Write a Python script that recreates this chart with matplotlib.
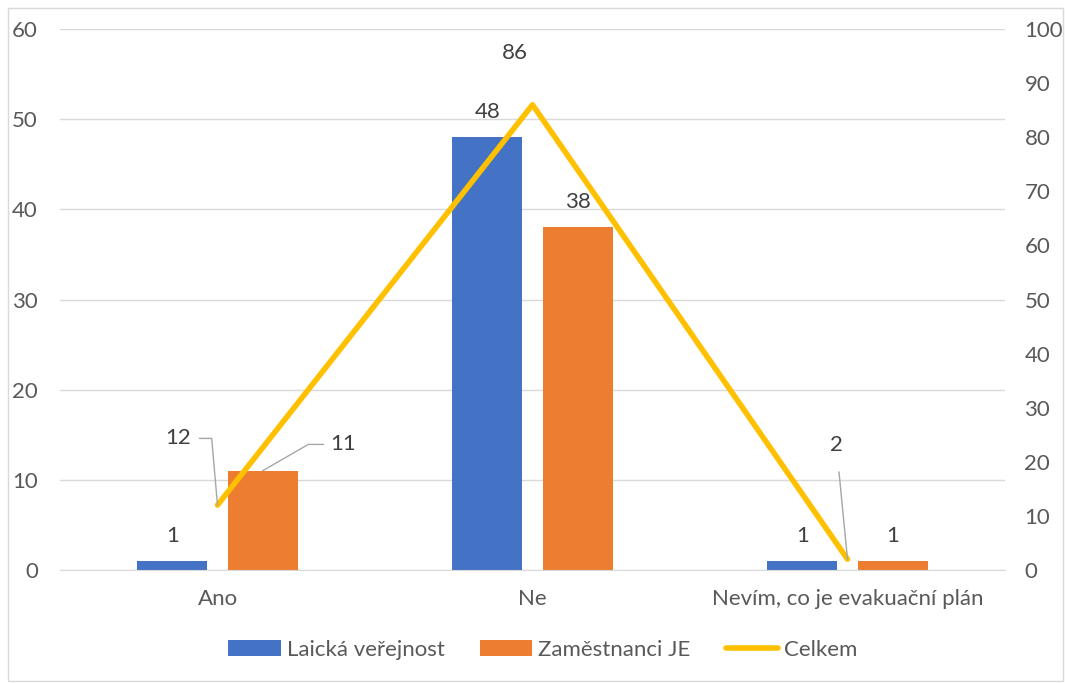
import matplotlib
matplotlib.use("Agg")
import matplotlib.pyplot as plt
from matplotlib.patches import Rectangle
import numpy as np

plt.rcParams['font.family'] = ['Lato', 'DejaVu Sans']

categories = ["Ano", "Ne", "Nevím, co je evakuační plán"]
laicka = [1, 48, 1]
zamestnanci = [11, 38, 1]
celkem = [12, 86, 2]
left_ticks = [0, 10, 20, 30, 40, 50, 60]
right_ticks = [0, 10, 20, 30, 40, 50, 60, 70, 80, 90, 100]

BLUE = "#4472C4"
ORANGE = "#ED7D31"
GOLD = "#FFC000"
GRID = "#D9D9D9"
TEXT = "#595959"
LABEL = "#404040"
LEADER = "#A6A6A6"
FS = 16

fig = plt.figure(figsize=(10.65, 6.83), dpi=100)
fig.patches.append(Rectangle((8 / 1065, 2 / 683), 1055 / 1065, 673 / 683,
                             transform=fig.transFigure, fill=False,
                             edgecolor="#D9D9D9", linewidth=1))

ax = fig.add_axes([60 / 1065, 1 - 570 / 683, 945 / 1065, 541 / 683])
ax2 = ax.twinx()

x = np.arange(len(categories))
w = 0.222
off = 0.143
bars1 = ax.bar(x - off, laicka, w, color=BLUE, label="Laická veřejnost", zorder=2)
bars2 = ax.bar(x + off, zamestnanci, w, color=ORANGE, label="Zaměstnanci JE", zorder=2)
line, = ax2.plot(x, celkem, color=GOLD, linewidth=4, solid_capstyle="round",
                 label="Celkem", zorder=3)

ax.set_xlim(-0.5, 2.5)
ax.set_ylim(0, 60)
ax2.set_ylim(0, 100)
ax.set_yticks(left_ticks)
ax2.set_yticks(right_ticks)
ax.set_xticks(x)
ax.set_xticklabels(categories)
ax.grid(axis="y", color=GRID, linewidth=1, zorder=0)
ax.set_axisbelow(True)

for a in (ax, ax2):
    for s in ("top", "left", "right", "bottom"):
        a.spines[s].set_visible(False)
    a.tick_params(length=0, labelsize=FS, labelcolor=TEXT)
ax.spines["bottom"].set_visible(True)
ax.spines["bottom"].set_color(GRID)
ax.tick_params(axis="y", pad=16)
ax2.tick_params(axis="y", pad=14)
ax.tick_params(axis="x", pad=14)

# value labels above bars (the "Ano" employee label gets a leader line)
for i, v in enumerate(laicka):
    ax.annotate(str(v), (x[i] - off, v), xytext=(0, 18), textcoords="offset points",
                ha="center", va="center", fontsize=FS, color=LABEL)
for i, v in enumerate(zamestnanci):
    if i == 0:
        continue
    ax.annotate(str(v), (x[i] + off, v), xytext=(0, 18), textcoords="offset points",
                ha="center", va="center", fontsize=FS, color=LABEL)

ax.annotate(str(zamestnanci[0]), (x[0] + off, zamestnanci[0]),
            xytext=(49, 19), textcoords="offset points",
            ha="left", va="center", fontsize=FS, color=LABEL,
            arrowprops=dict(arrowstyle="-", color=LEADER, lw=1,
                            connectionstyle="angle,angleA=0,angleB=30,rad=0",
                            shrinkA=3, shrinkB=0))

# Celkem labels
ax2.annotate(str(celkem[0]), (x[0], celkem[0]), xytext=(-19, 48),
             textcoords="offset points", ha="right", va="center",
             fontsize=FS, color=LABEL,
             arrowprops=dict(arrowstyle="-", color=LEADER, lw=1,
                             connectionstyle="angle,angleA=0,angleB=95,rad=0",
                             shrinkA=4, shrinkB=0))
ax2.annotate(str(celkem[1]), (x[1], celkem[1]), xytext=(-13, 37),
             textcoords="offset points", ha="center", va="center",
             fontsize=FS, color=LABEL)
ax2.annotate(str(celkem[2]), (x[2], celkem[2]), xytext=(-8, 82),
             textcoords="offset points", ha="center", va="center",
             fontsize=FS, color=LABEL,
             arrowprops=dict(arrowstyle="-", color=LEADER, lw=1,
                             shrinkA=10, shrinkB=0))

fig.legend(handles=[bars1, bars2, line], loc="center",
           bbox_to_anchor=(543 / 1065, 1 - 650 / 683), ncol=3, frameon=False,
           fontsize=FS, labelcolor=TEXT, handlelength=2.35, handleheight=0.75,
           columnspacing=1.6, handletextpad=0.27)

fig.savefig("out.png", dpi=100)
